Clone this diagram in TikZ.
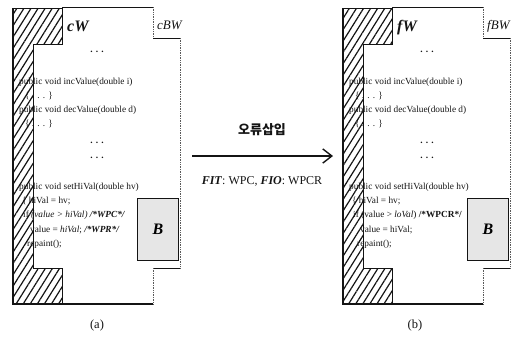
\documentclass[tikz,border=0pt]{standalone}
\usepackage{fontspec}
\setmainfont{Liberation Serif}
\newfontfamily\kofont{Noto Sans CJK KR}
\usetikzlibrary{arrows.meta,patterns.meta}
\definecolor{ink}{HTML}{141414}
\definecolor{rimc}{HTML}{5A5A5A}
\definecolor{stip}{HTML}{E6E6E6}
\tikzset{
  hatch/.style={pattern={Lines[angle=58,distance=6pt,line width=1.2pt]},pattern color=ink,draw=ink,line width=.5pt},
  solidrim/.style={draw=ink,line width=.8pt},
  dotrim/.style={draw=rimc,line width=.7pt,densely dotted},
  bbox/.style={draw=ink,line width=1pt,fill=stip,minimum width=41pt,minimum height=62pt,inner sep=0pt,font=\fontsize{16}{16}\selectfont\bfseries\itshape},
  code/.style={anchor=base west,inner sep=0pt,font=\fontsize{9.3}{10}\selectfont,text=ink},
  gap/.style={anchor=base,inner sep=0pt,font=\fontsize{9.5}{9.5}\selectfont\bfseries,text=ink},
  wname/.style={anchor=base west,inner sep=0pt,font=\fontsize{16}{16}\selectfont\bfseries\itshape,text=ink},
  tabname/.style={anchor=base west,inner sep=0pt,font=\fontsize{13}{13}\selectfont\itshape,text=ink},
  plain/.style={inner sep=0pt,text=ink},
  caption/.style={anchor=base,inner sep=0pt,font=\fontsize{12.5}{12.5}\selectfont,text=ink},
  ar/.style={-{Straight Barb[length=3.2mm,width=5mm,line width=1.4pt]},draw=ink,line width=1.4pt},
}
\begin{document}
\begin{tikzpicture}[x=1pt,y=-1pt]
  \useasboundingbox (0,0) rectangle (523,341);
  \foreach \x/\w/\b/\c/\cx in {13/cW/cBW/a/97,343/fW/fBW/b/415} {
    % window border (hatched) and frame
    \fill[hatch] (\x,8) -- (\x+49,8) -- (\x+49,44) -- (\x+20,44) -- (\x+20,268) -- (\x+49,268) -- (\x+49,304) -- (\x,304) -- cycle;
    \draw[solidrim,line width=1.2pt] (\x,8) -- (\x,304) -- (\x+140,304);
    \draw[solidrim] (\x+49,7) -- (\x+140,7);
    \draw[dotrim] (\x+140,7) -- (\x+140,38);
    \draw[solidrim] (\x+140,38) -- (\x+167,38);
    \draw[dotrim] (\x+167,38) -- (\x+167,268);
    \draw[solidrim] (\x+167,268) -- (\x+140,268);
    \draw[dotrim] (\x+140,268) -- (\x+140,304);
    \node[wname] (w\c) at (\x+54,31) {\w};
    \node[tabname] (t\c) at (\x+144,29) {\b};
    \node[bbox] (B\c) at (\x+145,229) {B};
    % shared code
    \node[gap] (d1\c) at (\x+84,52) {. . .};
    \node[code] (inc\c) at (\x+6,84) {public void incValue(double i)};
    \node[code] (ib\c) at (\x+12,98) {\{ . . . \}};
    \node[code] (dec\c) at (\x+6,112) {public void decValue(double d)};
    \node[code] (db\c) at (\x+12,126) {\{ . . . \}};
    \node[gap] (d2\c) at (\x+84,143) {. . .};
    \node[gap] (d3\c) at (\x+84,158) {. . .};
    \node[code] (set\c) at (\x+6,189) {public void setHiVal(double hv)};
    \node[code] (hv\c) at (\x+9,203) {\{ hiVal = hv;};
    \node[code] (rp\c) at (\x+14,246) {repaint();};
    \node[caption] (cap\c) at (\cx,328) {(\c)};
  }
  % differing lines
  \node[code] (ifa) at (23,217) {if \textit{(value > hiVal)} \textbf{\textit{/*WPC*/}}};
  \node[code] (vla) at (30,232) {value = \textit{hiVal}; \textbf{\textit{/*WPR*/}}};
  \node[code] (ifb) at (353,217) {if (value > \textit{loVal}) \textbf{/*WPCR*/}};
  \node[code] (vlb) at (360,232) {value = hiVal;};
  % fault injection arrow
  \coordinate (arrS) at (192,156);
  \coordinate (arrE) at (333,156);
  \draw[ar] (arrS) -- (arrE);
  \node[plain,font=\kofont\bfseries\fontsize{13}{13}\selectfont] (inj) at (262,130) {오류삽입};
  \node[plain,font=\fontsize{12}{12}\selectfont] (fault) at (262,181) {\textbf{\textit{FIT}}: WPC, \textbf{\textit{FIO}}: WPCR};
\end{tikzpicture}
\end{document}
